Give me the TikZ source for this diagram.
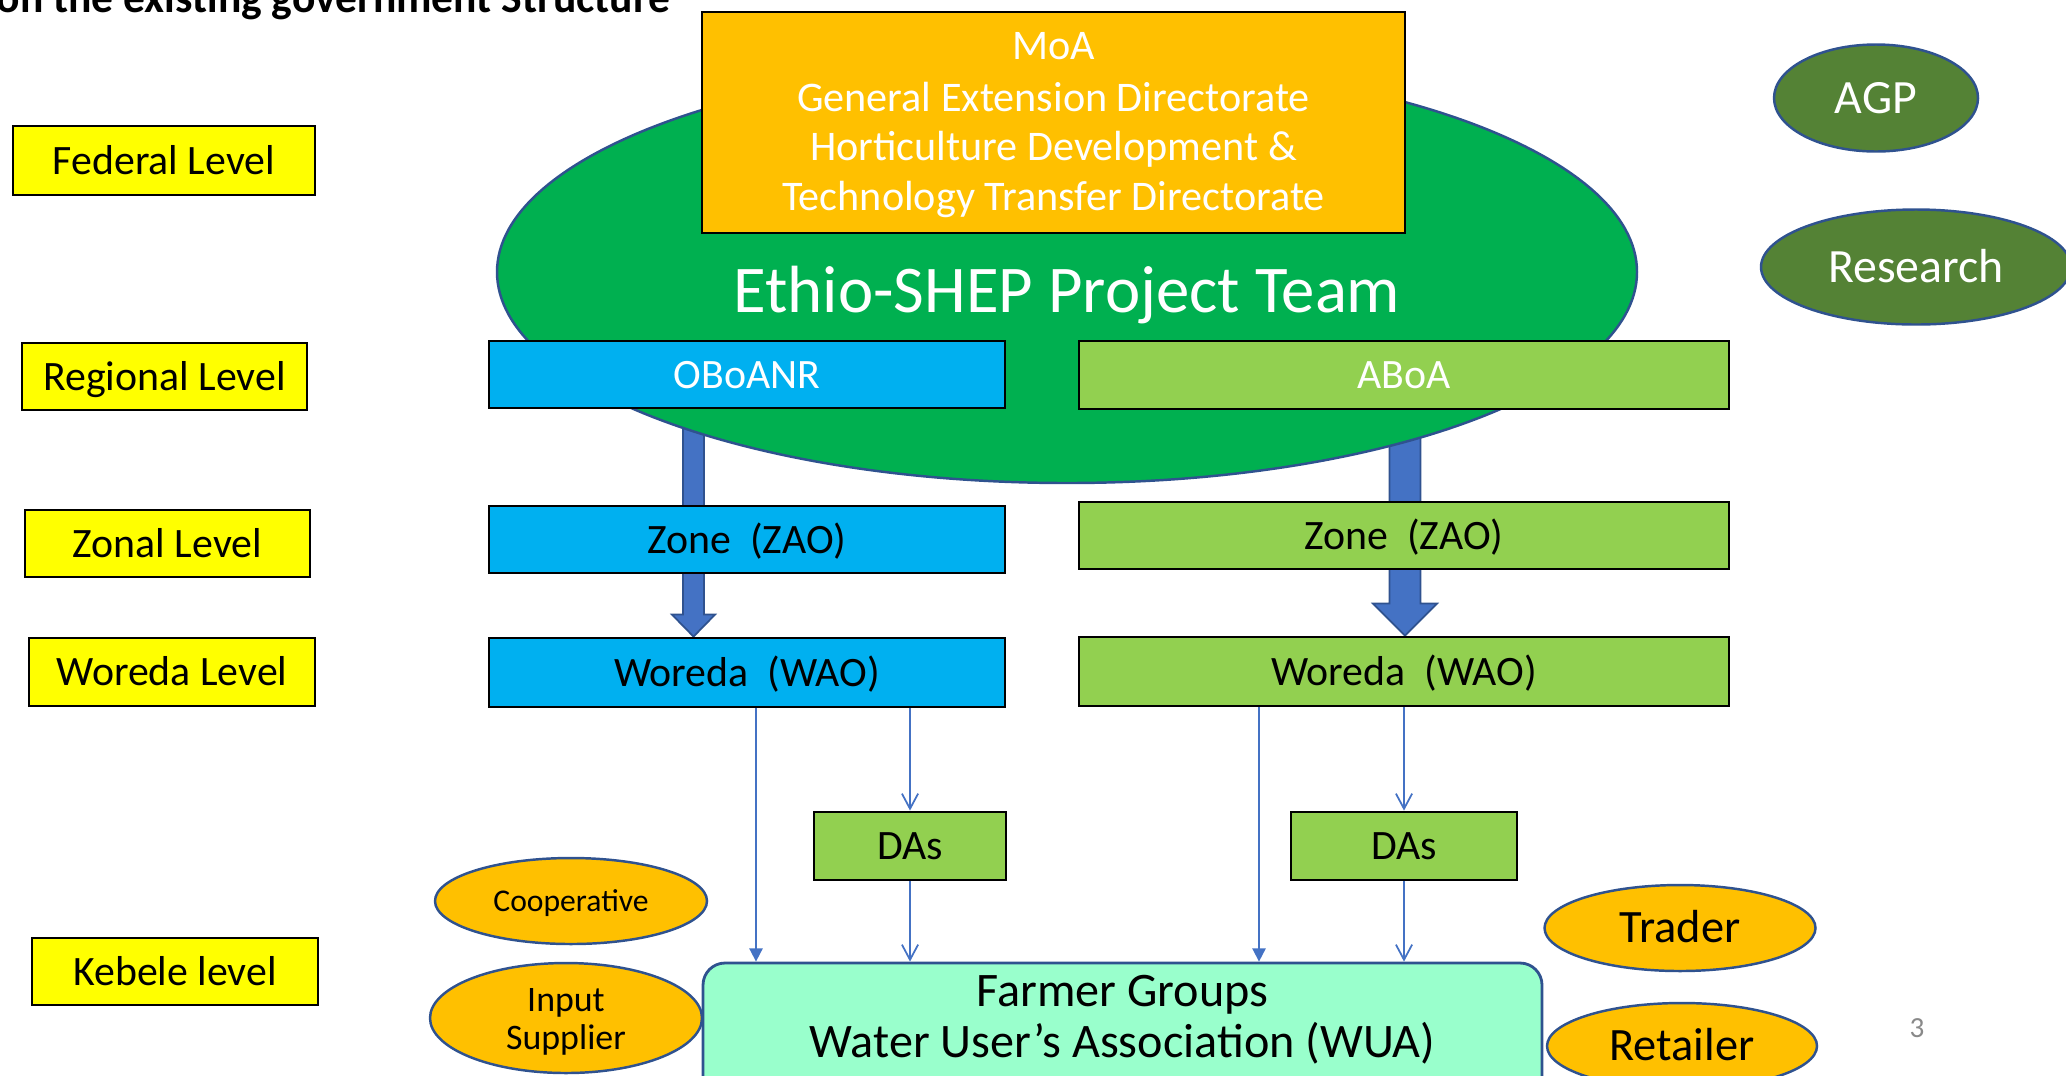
\documentclass[tikz,border=0pt]{standalone}
\usepackage{fontspec}
\setmainfont{Carlito}
\usetikzlibrary{shapes.geometric,arrows.meta,calc}
\definecolor{yel}{HTML}{FFFF00}
\definecolor{org}{HTML}{FFC000}
\definecolor{grn}{HTML}{00B050}
\definecolor{cyn}{HTML}{00B0F0}
\definecolor{lgr}{HTML}{92D050}
\definecolor{olv}{HTML}{548235}
\definecolor{bdr}{HTML}{2F528F}
\definecolor{arr}{HTML}{4472C4}
\definecolor{mnt}{HTML}{99FFCC}
\definecolor{pgn}{HTML}{898989}
\pgfdeclarelayer{bg}
\pgfsetlayers{bg,main}
\begin{document}
\begin{tikzpicture}[x=0.1mm,y=-0.1mm,
  fs/.style={font=\fontsize{#1}{#1}\selectfont},
  stdbox/.style={draw=black, line width=0.8pt, inner sep=0pt, text height=7.7pt, text depth=0pt, font=\fontsize{11.9}{14}\selectfont},
  lvlbox/.style={stdbox, fill=yel},
  bluebox/.style={stdbox, fill=cyn},
  greenbox/.style={stdbox, fill=lgr},
  oval/.style={ellipse, draw=bdr, line width=0.7pt, inner sep=0pt},
  lbl/.style={anchor=base, inner sep=0pt},
  thinln/.style={draw=arr, line width=0.5pt},
  barb/.style={thinln, -{Straight Barb[length=4.3pt,width=4.6pt,line width=0.5pt]}},
  tri/.style={thinln, -{Triangle[length=3.8pt,width=3.8pt]}},
  block/.style={fill=arr, draw=bdr, line width=0.5pt},
]
\useasboundingbox (0,0) rectangle (2066,1075);
\clip (0,0) rectangle (2066,1075);

% title (cut off at the top edge, as in the reference)
\node[anchor=base west, inner sep=0pt, font=\bfseries\fontsize{12.4}{14}\selectfont] (title) at (-4,12) {on the existing government Structure};

% level labels
\node[lvlbox, minimum width=30.2mm, minimum height=6.9mm] (fed) at (164,160.5) {Federal Level};
\node[lvlbox, minimum width=28.5mm, minimum height=6.7mm] (reg) at (164.5,376.5) {Regional Level};
\node[lvlbox, minimum width=28.5mm, minimum height=6.7mm] (zon) at (167.5,543.5) {Zonal Level};
\node[lvlbox, minimum width=28.6mm, minimum height=6.8mm] (wor) at (172,672) {Woreda Level};
\node[lvlbox, minimum width=28.6mm, minimum height=6.7mm] (keb) at (175,971.5) {Kebele level};

% project team ellipse
\node[oval, fill=grn, minimum width=114mm, minimum height=42.2mm] (team) at (1067,272) {};
\node[lbl, text=white, fs=19] (teamtxt) at (1067,312) {Ethio-SHEP Project Team};

% MoA
\node[stdbox, fill=org, minimum width=70.3mm, minimum height=22.1mm] (moa) at (1053.5,122.5) {};
\node[lbl, text=white, fs=12] (moa1) at (1053.5,59) {MoA};
\node[lbl, text=white, fs=12] (moa2) at (1053.5,111) {General Extension Directorate};
\node[lbl, text=white, fs=12] (moa3) at (1053.5,160) {Horticulture Development \&};
\node[lbl, text=white, fs=12] (moa4) at (1053.5,210) {Technology Transfer Directorate};

% right ovals
\node[oval, fill=olv, minimum width=20.4mm, minimum height=10.7mm, text=white, fs=13.6, text height=8.7pt, text depth=0pt] (agp) at (1876,98) {AGP};
\node[oval, fill=olv, minimum width=31mm, minimum height=11.5mm, text=white, fs=13.6, text height=8.7pt, text depth=0pt] (res) at (1916,267) {Research};

% regional
\node[bluebox, text=white, minimum width=51.6mm, minimum height=6.7mm] (oboanr) at (747,374.5) {OBoANR};
\node[greenbox, text=white, minimum width=65mm, minimum height=6.8mm] (aboa) at (1404,375) {ABoA};

% zonal
\node[bluebox, minimum width=51.6mm, minimum height=6.7mm] (zonel) at (747,539.5) {Zone\ \ (ZAO)};
\node[greenbox, minimum width=65mm, minimum height=6.7mm] (zoner) at (1404,535.5) {Zone\ \ (ZAO)};

% woreda
\node[bluebox, minimum width=51.6mm, minimum height=6.9mm] (worl) at (747,672.5) {Woreda\ \ (WAO)};
\node[greenbox, minimum width=65mm, minimum height=6.9mm] (worr) at (1404,671.5) {Woreda\ \ (WAO)};

% DAs
\node[greenbox, minimum width=19.2mm, minimum height=6.8mm] (dasl) at (910,846) {DAs};
\node[greenbox, minimum width=22.6mm, minimum height=6.8mm] (dasr) at (1404,846) {DAs};

% farmer groups
\node[draw=bdr, line width=0.8pt, fill=mnt, rounded corners=2.2mm, minimum width=83.9mm, minimum height=13.7mm, inner sep=0pt] (farm) at (1122.5,1031.5) {};
\node[lbl, fs=13.7] (farm1) at (1122.5,1006) {Farmer Groups};
\node[lbl, fs=13.7] (farm2) at (1122.5,1057) {Water User’s Association (WUA)};

% kebele ovals
\node[oval, fill=org, minimum width=27.2mm, minimum height=8.6mm, fs=9, text height=5.8pt, text depth=0pt] (coop) at (571,901) {Cooperative};
\node[oval, fill=org, minimum width=27.2mm, minimum height=11mm] (inp) at (566,1018) {};
\node[lbl, fs=10.2] (inp1) at (566,1011) {Input};
\node[lbl, fs=10.2] (inp2) at (566,1049) {Supplier};
\node[oval, fill=org, minimum width=27.1mm, minimum height=8.6mm, fs=13.2, text height=8.5pt, text depth=0pt] (trader) at (1680,928) {Trader};
\node[oval, fill=org, minimum width=27mm, minimum height=8.6mm, fs=13.2, text height=8.5pt, text depth=0pt] (retail) at (1682,1046) {Retailer};

% page number
\node[lbl, text=pgn, fs=8.3] (pnum) at (1917,1037) {3};

% thin arrows
\coordinate (xl) at (756,0);
\coordinate (xr) at (1259,0);
\draw[tri] (worl.south -| xl) -- (farm.north -| xl);
\draw[barb] (worl.south -| dasl.north) -- (dasl.north);
\draw[barb] (dasl.south) -- (dasl.south |- farm.north);
\draw[tri] (worr.south -| xr) -- (farm.north -| xr);
\draw[barb] (worr.south -| dasr.north) -- (dasr.north);
\draw[barb] (dasr.south) -- (dasr.south |- farm.north);

% block arrows (behind)
\begin{pgfonlayer}{bg}
\coordinate (lx) at (693.5,0);
\coordinate (rx) at (1405,0);
\coordinate (lt) at (oboanr.south -| lx);
\coordinate (lb) at (worl.north -| lx);
\coordinate (rt) at (aboa.south -| rx);
\coordinate (rb) at (worr.north -| rx);
\filldraw[block] ($(lt)+(-10.5,0)$) -- ($(lb)+(-10.5,-22)$) -- ($(lb)+(-21.5,-22)$) -- (lb) -- ($(lb)+(21.5,-22)$) -- ($(lb)+(10.5,-22)$) -- ($(lt)+(10.5,0)$) -- cycle;
\filldraw[block] ($(rt)+(-15.5,0)$) -- ($(rb)+(-15.5,-32)$) -- ($(rb)+(-32,-32)$) -- (rb) -- ($(rb)+(32,-32)$) -- ($(rb)+(15.5,-32)$) -- ($(rt)+(15.5,0)$) -- cycle;
\end{pgfonlayer}
\end{tikzpicture}
\end{document}
